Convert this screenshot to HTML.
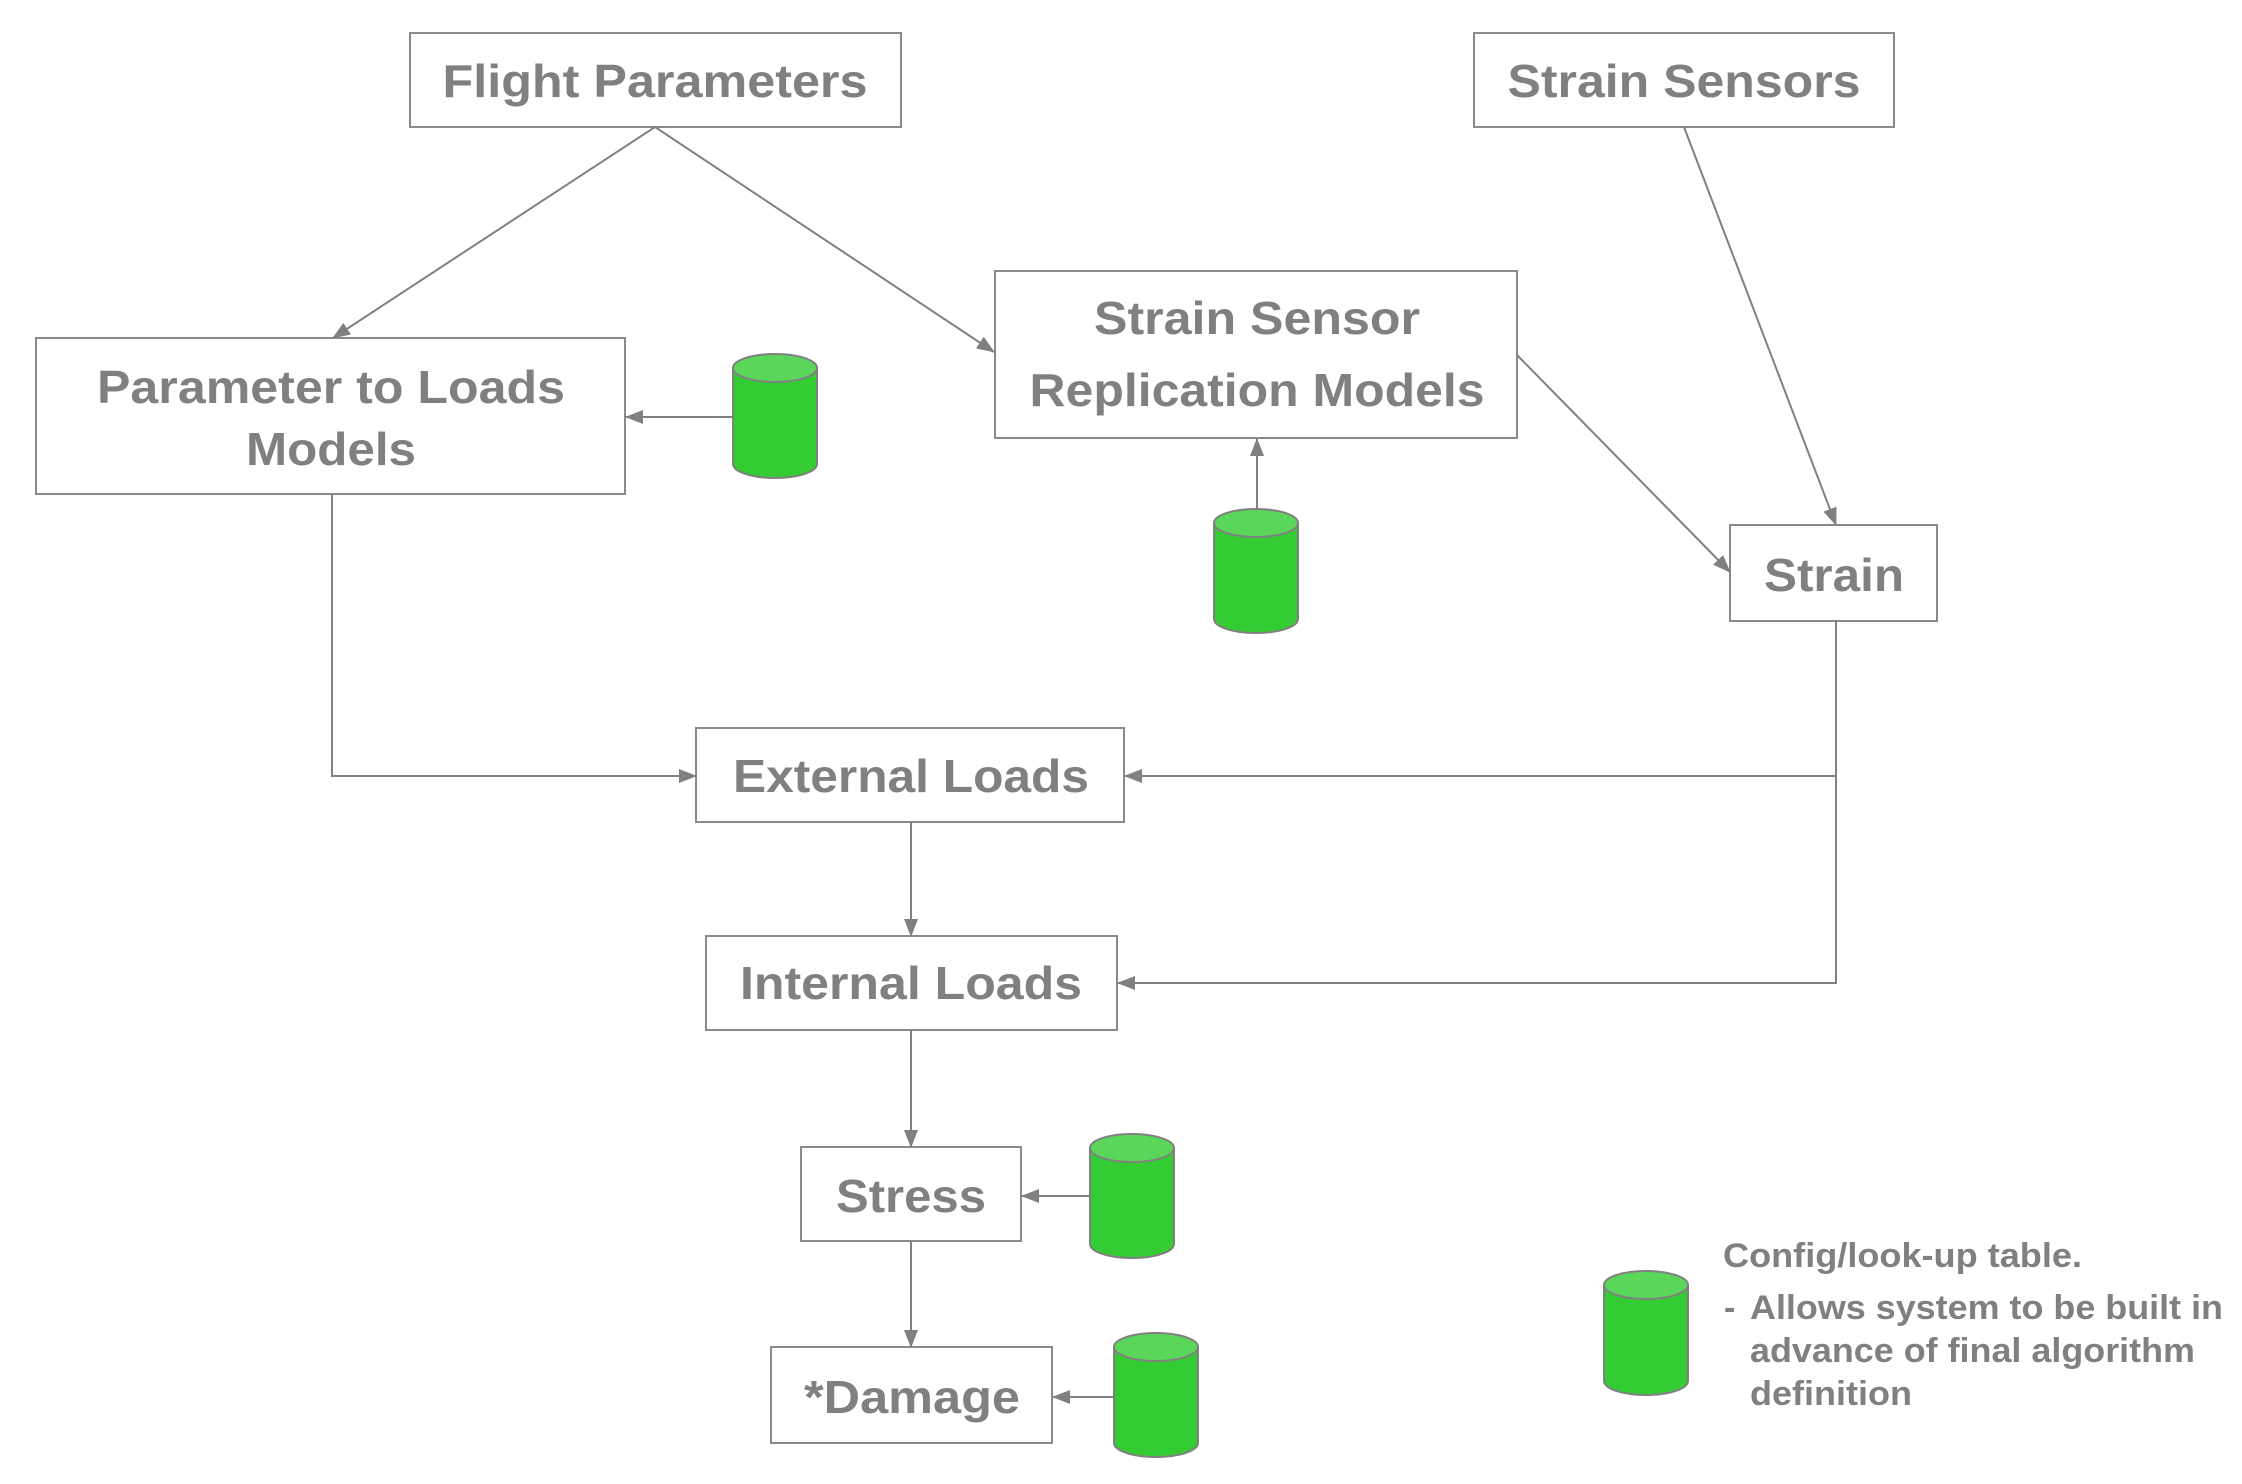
<!DOCTYPE html>
<html><head><meta charset="utf-8"><style>
html,body{margin:0;padding:0;background:#fff;}
svg{display:block;}
text{font-family:"Liberation Sans",Arial,sans-serif;font-weight:bold;fill:#808080;}
</style></head><body>
<svg width="2242" height="1484" viewBox="0 0 2242 1484" xmlns="http://www.w3.org/2000/svg">
<defs>
<marker id="a" markerWidth="10" markerHeight="10" refX="9" refY="5" orient="auto" markerUnits="userSpaceOnUse" viewBox="0 0 10 10">
<path d="M0,0 L10,5 L0,10 z" fill="#808080"/>
</marker>
<marker id="b" markerWidth="18" markerHeight="18" refX="17" refY="9" orient="auto" markerUnits="userSpaceOnUse" viewBox="0 0 18 18">
<path d="M0,2 L18,9 L0,16 z" fill="#808080"/>
</marker>
<g id="cyl">
<path d="M0,14 L0,110 A42,14 0 0 0 84,110 L84,14" fill="#33cc33" stroke="#808080" stroke-width="2"/>
<ellipse cx="42" cy="14" rx="42" ry="14" fill="#5ad65a" stroke="#808080" stroke-width="2"/>
</g>
</defs>
<g fill="#fff" stroke="#8a8a8a" stroke-width="2">
<rect x="410" y="33" width="491" height="94"/>
<rect x="1474" y="33" width="420" height="94"/>
<rect x="36" y="338" width="589" height="156"/>
<rect x="995" y="271" width="522" height="167"/>
<rect x="1730" y="525" width="207" height="96"/>
<rect x="696" y="728" width="428" height="94"/>
<rect x="706" y="936" width="411" height="94"/>
<rect x="801" y="1147" width="220" height="94"/>
<rect x="771" y="1347" width="281" height="96"/>
</g>
<g stroke="#808080" stroke-width="2" fill="none" marker-end="url(#b)">
<line x1="655" y1="127" x2="333" y2="338"/>
<line x1="655" y1="127" x2="994" y2="352"/>
<line x1="1684" y1="127" x2="1836" y2="525"/>
<line x1="1517" y1="355" x2="1730" y2="572"/>
<line x1="733" y1="417" x2="626" y2="417"/>
<line x1="1257" y1="509" x2="1257" y2="439"/>
<polyline points="332,494 332,776 696,776"/>
<polyline points="1836,621 1836,776 1125,776"/>
<polyline points="1836,776 1836,983 1118,983"/>
<line x1="911" y1="822" x2="911" y2="936"/>
<line x1="911" y1="1030" x2="911" y2="1147"/>
<line x1="911" y1="1241" x2="911" y2="1347"/>
<line x1="1090" y1="1196" x2="1022" y2="1196"/>
<line x1="1114" y1="1397" x2="1053" y2="1397"/>
</g>
<use href="#cyl" x="733" y="354"/>
<use href="#cyl" x="1214" y="509"/>
<use href="#cyl" x="1090" y="1134"/>
<use href="#cyl" x="1114" y="1333"/>
<use href="#cyl" x="1604" y="1271"/>
<g font-size="46" text-anchor="middle">
<text x="655" y="97" textLength="425" lengthAdjust="spacingAndGlyphs">Flight Parameters</text>
<text x="1684" y="97" textLength="353" lengthAdjust="spacingAndGlyphs">Strain Sensors</text>
<text x="331" y="403" textLength="468" lengthAdjust="spacingAndGlyphs">Parameter to Loads</text>
<text x="331" y="465" textLength="170" lengthAdjust="spacingAndGlyphs">Models</text>
<text x="1257" y="334" textLength="326" lengthAdjust="spacingAndGlyphs">Strain Sensor</text>
<text x="1257" y="406" textLength="455" lengthAdjust="spacingAndGlyphs">Replication Models</text>
<text x="1834" y="591" textLength="140" lengthAdjust="spacingAndGlyphs">Strain</text>
<text x="911" y="792" textLength="356" lengthAdjust="spacingAndGlyphs">External Loads</text>
<text x="911" y="999" textLength="342" lengthAdjust="spacingAndGlyphs">Internal Loads</text>
<text x="911" y="1212" textLength="150" lengthAdjust="spacingAndGlyphs">Stress</text>
<text x="912" y="1413" textLength="216" lengthAdjust="spacingAndGlyphs">*Damage</text>
</g>
<g font-size="34">
<text x="1723" y="1267" textLength="359" lengthAdjust="spacingAndGlyphs">Config/look-up table.</text>
<text x="1724" y="1319">-</text>
<text x="1750" y="1319" textLength="473" lengthAdjust="spacingAndGlyphs">Allows system to be built in</text>
<text x="1750" y="1362" textLength="445" lengthAdjust="spacingAndGlyphs">advance of final algorithm</text>
<text x="1750" y="1405" textLength="162" lengthAdjust="spacingAndGlyphs">definition</text>
</g>
</svg>
</body></html>
